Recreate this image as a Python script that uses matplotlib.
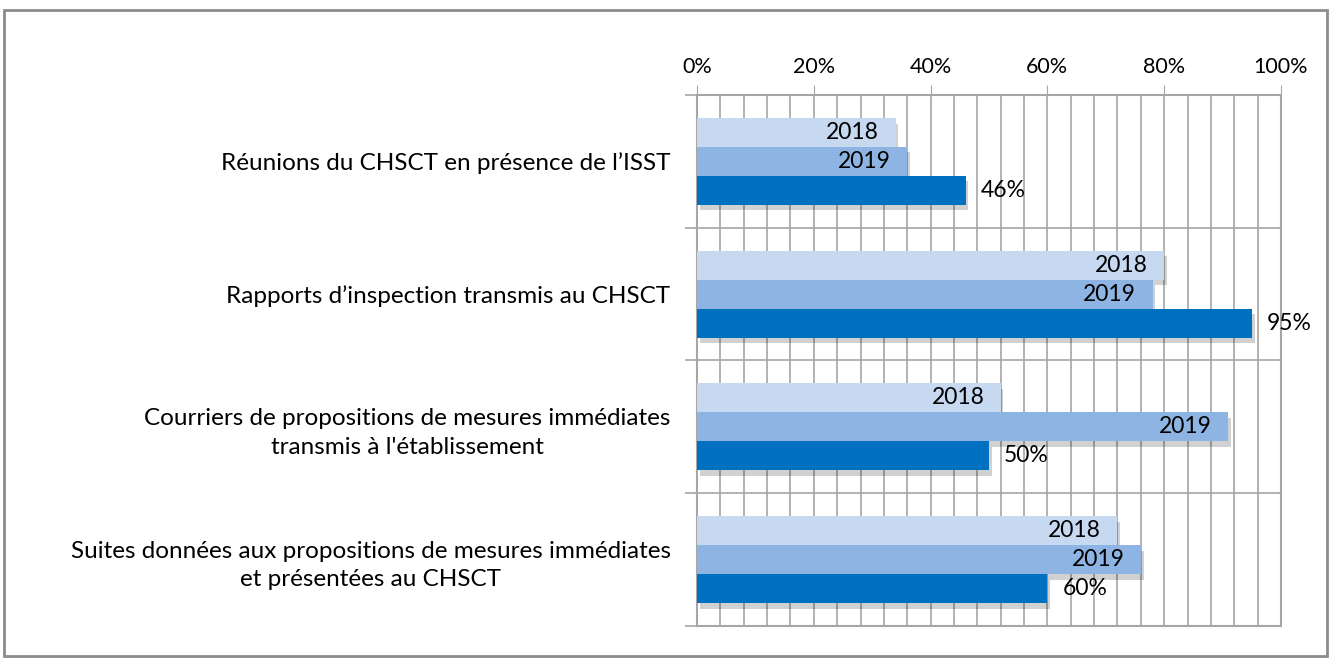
import matplotlib.pyplot as plt
import matplotlib.patheffects as pe
import numpy as np
from matplotlib.patches import Rectangle

plt.rcParams["font.family"] = ["Lato", "DejaVu Sans"]

categories = [
    "Réunions du CHSCT en présence de l\u2019ISST",
    "Rapports d\u2019inspection transmis au CHSCT",
    "Courriers de propositions de mesures immédiates\ntransmis à l'établissement",
    "Suites données aux propositions de mesures immédiates\net présentées au CHSCT",
]
values_2018 = [34, 80, 52, 72]
values_2019 = [36, 78, 91, 76]
values_2020 = [46, 95, 50, 60]
series_labels = ["2018", "2019", None]

colors = ["#C6D9F1", "#8DB4E2", "#0070C0"]
grid_color = "#A6A6A6"

fig = plt.figure(figsize=(13.3, 6.59), dpi=100)
ax = fig.add_axes([697 / 1330, 1 - 626 / 659, (1281 - 697) / 1330, (626 - 95) / 659])

y = np.arange(len(categories))
h = 0.218
shadow = [pe.SimplePatchShadow(offset=(2, -4), shadow_rgbFace="#000000", alpha=0.18), pe.Normal()]

for k, (vals, lab) in enumerate(zip([values_2018, values_2019, values_2020], series_labels)):
    pos = y + (k - 1) * h
    bars = ax.barh(pos, vals, height=h, color=colors[k], zorder=3 + k)
    for b in bars:
        b.set_path_effects(shadow)
    for p, v in zip(pos, vals):
        if lab is not None:
            ax.text(v - 2.8, p, lab, ha="right", va="center", fontsize=16.5, color="#000000", zorder=10)
        else:
            ax.text(v + 2.6, p, f"{v}%", ha="left", va="center", fontsize=16.5, color="#000000", zorder=10)

ax.set_xlim(0, 100)
ax.set_ylim(len(categories) - 0.5, -0.5)

ax.xaxis.tick_top()
ax.set_xticks(np.arange(0, 101, 20))
ax.set_xticklabels([f"{t}%" for t in range(0, 101, 20)], fontsize=15.5)
ax.set_xticks(np.arange(0, 101, 4), minor=True)
ax.tick_params(axis="x", which="major", length=7, color=grid_color, pad=6)
ax.tick_params(axis="x", which="minor", length=0)
ax.grid(axis="x", which="both", color=grid_color, linewidth=1.2, zorder=0)

ax.set_yticks(y)
ax.set_yticklabels(categories, fontsize=17.5, multialignment="center", linespacing=1.45)
ax.set_yticks(np.arange(-0.5, len(categories), 1), minor=True)
ax.tick_params(axis="y", which="major", length=0, pad=19)
ax.tick_params(axis="y", which="minor", length=9, color=grid_color, width=1.2)
ax.grid(axis="y", which="minor", color=grid_color, linewidth=1.2, zorder=0)
ax.set_axisbelow(True)

for s in ax.spines.values():
    s.set_color(grid_color)
    s.set_linewidth(1.5)

fig.patches.append(Rectangle((4 / 1330, 3 / 659), 1323 / 1330, 646 / 659, transform=fig.transFigure,
                             fill=False, edgecolor="#8C8C8C", linewidth=2))

fig.savefig("out.png", dpi=100)
